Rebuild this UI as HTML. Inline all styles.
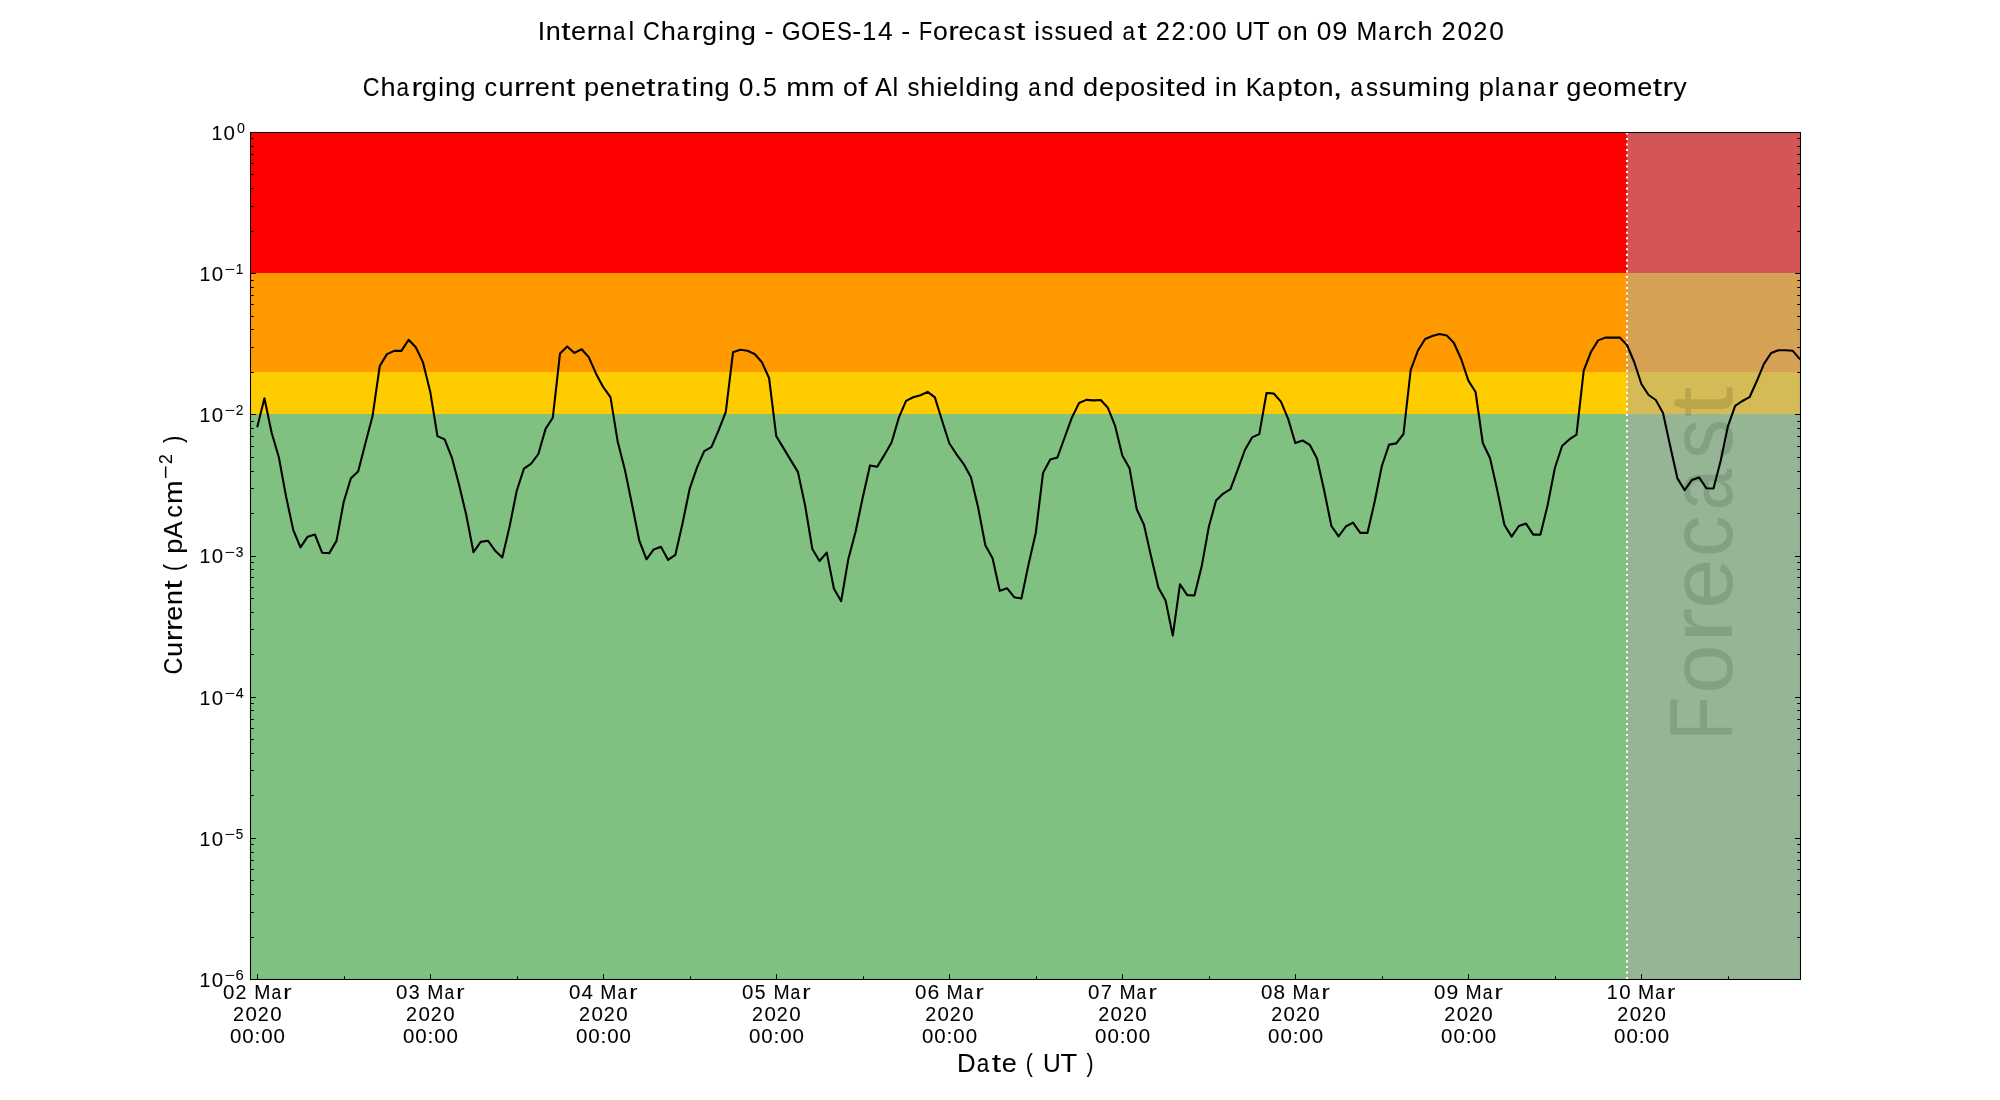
<!DOCTYPE html>
<html><head><meta charset="utf-8"><title>Internal Charging - GOES-14</title>
<style>html,body{margin:0;padding:0;background:#fff;width:2000px;height:1100px;overflow:hidden}svg{display:block;will-change:transform}text{font-family:"Liberation Sans", sans-serif;fill:#000;stroke:#000;stroke-width:0.07px;-webkit-font-smoothing:antialiased}</style>
</head><body>
<svg width="2000" height="1100" viewBox="0 0 2000 1100">
<rect x="0" y="0" width="2000" height="1100" fill="#fff"/>
<rect x="250.0" y="132.0" width="1550.0" height="141.00" fill="#ff0000"/>
<rect x="250.0" y="273.00" width="1550.0" height="99.00" fill="#ff9900"/>
<rect x="250.0" y="372.00" width="1550.0" height="42.00" fill="#ffcc00"/>
<rect x="250.0" y="414.00" width="1550.0" height="565.00" fill="#80c080"/>
<rect x="1627.00" y="132.0" width="173.00" height="847.0" fill="#a9a9a9" fill-opacity="0.5"/>
<g transform="translate(1731.9,734.5) rotate(-90)" opacity="0.11">
<text transform="translate(17.46,0.00) scale(0.809,1)" x="-28.83" y="0" font-size="88.33">F</text><text transform="translate(65.27,0.00) scale(1.003,1)" x="-24.56" y="0" font-size="88.33">o</text><text transform="translate(111.65,0.00) scale(1.209,1)" x="-16.91" y="0" font-size="88.33">r</text><text transform="translate(150.72,0.00) scale(1.019,1)" x="-24.48" y="0" font-size="88.33">e</text><text transform="translate(198.89,0.00) scale(0.947,1)" x="-22.79" y="0" font-size="88.33">c</text><text transform="translate(246.34,0.00) scale(0.848,1)" x="-26.44" y="0" font-size="88.33">a</text><text transform="translate(295.08,0.00) scale(0.904,1)" x="-21.72" y="0" font-size="88.33">s</text><text transform="translate(333.03,0.00) scale(1.261,1)" x="-12.62" y="0" font-size="88.33">t</text>
</g>
<line x1="1627" y1="979" x2="1627" y2="132" stroke="#fff" stroke-width="2.08" stroke-dasharray="2.08 3.44"/>
<polyline points="257.21,427.30 264.42,398.20 271.63,432.70 278.84,457.30 286.05,496.40 293.26,530.00 300.47,547.30 307.67,536.70 314.88,534.50 322.09,552.70 329.30,553.10 336.51,540.90 343.72,501.80 350.93,478.20 358.14,471.50 365.35,443.60 372.56,416.10 379.77,366.00 386.98,354.10 394.19,350.90 401.40,350.90 408.60,339.80 415.81,347.20 423.02,362.40 430.23,391.70 437.44,436.10 444.65,439.40 451.86,457.60 459.07,484.80 466.28,515.10 473.49,552.20 480.70,541.90 487.91,540.70 495.12,550.70 502.33,557.40 509.53,526.70 516.74,490.80 523.95,468.60 531.16,463.60 538.37,454.00 545.58,428.90 552.79,417.80 560.00,353.60 567.21,346.40 574.42,352.90 581.63,349.20 588.84,357.30 596.05,373.70 603.26,387.20 610.47,397.20 617.67,441.40 624.88,469.70 632.09,504.70 639.30,540.70 646.51,559.30 653.72,549.40 660.93,546.80 668.14,559.90 675.35,554.90 682.56,523.20 689.77,488.30 696.98,467.60 704.19,451.20 711.40,447.20 718.60,430.40 725.81,411.90 733.02,352.30 740.23,349.70 747.44,350.70 754.65,354.00 761.86,362.10 769.07,378.00 776.28,436.30 783.49,448.10 790.70,460.10 797.91,471.90 805.12,505.50 812.33,549.00 819.53,561.00 826.74,552.60 833.95,588.80 841.16,601.10 848.37,558.90 855.58,531.70 862.79,497.20 870.00,465.40 877.21,466.80 884.42,454.90 891.63,442.30 898.84,417.70 906.05,400.90 913.26,397.20 920.47,395.30 927.67,391.90 934.88,397.40 942.09,420.80 949.30,443.20 956.51,454.30 963.72,464.10 970.93,477.30 978.14,507.60 985.35,545.30 992.56,558.20 999.77,590.90 1006.98,588.20 1014.19,597.20 1021.40,598.60 1028.60,564.10 1035.81,532.70 1043.02,473.10 1050.23,459.50 1057.44,457.40 1064.65,437.50 1071.86,417.70 1079.07,403.00 1086.28,399.90 1093.49,400.40 1100.70,400.00 1107.91,407.80 1115.12,425.90 1122.33,455.60 1129.53,468.30 1136.74,509.30 1143.95,524.80 1151.16,556.80 1158.37,587.40 1165.58,600.40 1172.79,635.60 1180.00,584.20 1187.21,595.10 1194.42,595.50 1201.63,566.60 1208.84,526.70 1216.05,500.50 1223.26,493.60 1230.47,489.20 1237.67,469.90 1244.88,450.00 1252.09,437.40 1259.30,434.10 1266.51,393.00 1273.72,393.50 1280.93,401.60 1288.14,418.90 1295.35,443.10 1302.56,440.50 1309.77,444.80 1316.98,458.60 1324.19,490.60 1331.40,526.00 1338.60,536.40 1345.81,526.50 1353.02,522.60 1360.23,532.90 1367.44,532.90 1374.65,501.80 1381.86,466.00 1389.07,444.60 1396.28,443.40 1403.49,434.00 1410.70,370.00 1417.91,350.60 1425.12,339.00 1432.33,336.00 1439.53,334.00 1446.74,335.40 1453.95,343.00 1461.16,359.00 1468.37,380.60 1475.58,392.00 1482.79,443.00 1490.00,458.00 1497.21,490.00 1504.42,525.00 1511.63,536.60 1518.84,526.00 1526.05,523.60 1533.26,534.60 1540.47,534.60 1547.67,505.00 1554.88,468.00 1562.09,446.00 1569.30,439.40 1576.51,434.60 1583.72,370.60 1590.93,352.00 1598.14,340.40 1605.35,337.60 1612.56,337.60 1619.77,337.60 1626.98,345.00 1634.19,362.00 1641.40,384.00 1648.60,395.00 1655.81,400.00 1663.02,413.00 1670.23,446.30 1677.44,478.40 1684.65,490.10 1691.86,480.00 1699.07,477.40 1706.28,488.20 1713.49,488.50 1720.70,460.70 1727.91,426.30 1735.12,405.90 1742.33,401.00 1749.53,397.20 1756.74,381.30 1763.95,363.80 1771.16,353.00 1778.37,350.30 1785.58,350.30 1792.79,350.80 1800.00,359.30" fill="none" stroke="#000" stroke-width="2.08" stroke-linejoin="round" stroke-linecap="butt"/>
<path d="M250,132.5h5.86M1801,132.5h-5.86M250,231.5h3.78M1801,231.5h-3.78M250,206.5h3.78M1801,206.5h-3.78M250,188.5h3.78M1801,188.5h-3.78M250,174.5h3.78M1801,174.5h-3.78M250,163.5h3.78M1801,163.5h-3.78M250,154.5h3.78M1801,154.5h-3.78M250,146.5h3.78M1801,146.5h-3.78M250,138.5h3.78M1801,138.5h-3.78M250,273.5h5.86M1801,273.5h-5.86M250,372.5h3.78M1801,372.5h-3.78M250,347.5h3.78M1801,347.5h-3.78M250,329.5h3.78M1801,329.5h-3.78M250,316.5h3.78M1801,316.5h-3.78M250,304.5h3.78M1801,304.5h-3.78M250,295.5h3.78M1801,295.5h-3.78M250,287.5h3.78M1801,287.5h-3.78M250,280.5h3.78M1801,280.5h-3.78M250,414.5h5.86M1801,414.5h-5.86M250,513.5h3.78M1801,513.5h-3.78M250,488.5h3.78M1801,488.5h-3.78M250,471.5h3.78M1801,471.5h-3.78M250,457.5h3.78M1801,457.5h-3.78M250,446.5h3.78M1801,446.5h-3.78M250,436.5h3.78M1801,436.5h-3.78M250,428.5h3.78M1801,428.5h-3.78M250,421.5h3.78M1801,421.5h-3.78M250,556.5h5.86M1801,556.5h-5.86M250,654.5h3.78M1801,654.5h-3.78M250,629.5h3.78M1801,629.5h-3.78M250,612.5h3.78M1801,612.5h-3.78M250,598.5h3.78M1801,598.5h-3.78M250,587.5h3.78M1801,587.5h-3.78M250,577.5h3.78M1801,577.5h-3.78M250,569.5h3.78M1801,569.5h-3.78M250,562.5h3.78M1801,562.5h-3.78M250,697.5h5.86M1801,697.5h-5.86M250,795.5h3.78M1801,795.5h-3.78M250,770.5h3.78M1801,770.5h-3.78M250,753.5h3.78M1801,753.5h-3.78M250,739.5h3.78M1801,739.5h-3.78M250,728.5h3.78M1801,728.5h-3.78M250,719.5h3.78M1801,719.5h-3.78M250,710.5h3.78M1801,710.5h-3.78M250,703.5h3.78M1801,703.5h-3.78M250,838.5h5.86M1801,838.5h-5.86M250,937.5h3.78M1801,937.5h-3.78M250,912.5h3.78M1801,912.5h-3.78M250,894.5h3.78M1801,894.5h-3.78M250,880.5h3.78M1801,880.5h-3.78M250,869.5h3.78M1801,869.5h-3.78M250,860.5h3.78M1801,860.5h-3.78M250,852.5h3.78M1801,852.5h-3.78M250,844.5h3.78M1801,844.5h-3.78M250,979.5h5.86M1801,979.5h-5.86M257.5,980v-5.86M344.5,980v-3.78M430.5,980v-5.86M517.5,980v-3.78M603.5,980v-5.86M690.5,980v-3.78M776.5,980v-5.86M863.5,980v-3.78M949.5,980v-5.86M1036.5,980v-3.78M1122.5,980v-5.86M1209.5,980v-3.78M1295.5,980v-5.86M1382.5,980v-3.78M1468.5,980v-5.86M1555.5,980v-3.78M1641.5,980v-5.86M1728.5,980v-3.78" stroke="#000" stroke-width="1.05" fill="none"/>
<rect x="250.5" y="132.5" width="1550" height="847" fill="none" stroke="#000" stroke-width="1.05"/>
<text transform="translate(541.44,40.20) scale(0.998,1)" x="-3.68" y="0" font-size="26.50">I</text><text transform="translate(553.15,40.20) scale(1.017,1)" x="-7.39" y="0" font-size="26.50">n</text><text transform="translate(565.97,40.20) scale(1.261,1)" x="-3.78" y="0" font-size="26.50">t</text><text transform="translate(578.58,40.20) scale(1.019,1)" x="-7.34" y="0" font-size="26.50">e</text><text transform="translate(592.55,40.20) scale(1.209,1)" x="-5.07" y="0" font-size="26.50">r</text><text transform="translate(604.58,40.20) scale(1.017,1)" x="-7.39" y="0" font-size="26.50">n</text><text transform="translate(619.74,40.20) scale(0.848,1)" x="-7.93" y="0" font-size="26.50">a</text><text transform="translate(631.30,40.20) scale(0.964,1)" x="-2.95" y="0" font-size="26.50">l</text><text transform="translate(651.51,40.20) scale(0.876,1)" x="-9.74" y="0" font-size="26.50">C</text><text transform="translate(668.25,40.20) scale(1.024,1)" x="-7.43" y="0" font-size="26.50">h</text><text transform="translate(683.42,40.20) scale(0.848,1)" x="-7.93" y="0" font-size="26.50">a</text><text transform="translate(697.77,40.20) scale(1.209,1)" x="-5.07" y="0" font-size="26.50">r</text><text transform="translate(709.29,40.20) scale(1.025,1)" x="-7.07" y="0" font-size="26.50">g</text><text transform="translate(721.18,40.20) scale(0.964,1)" x="-2.94" y="0" font-size="26.50">i</text><text transform="translate(732.67,40.20) scale(1.017,1)" x="-7.39" y="0" font-size="26.50">n</text><text transform="translate(748.05,40.20) scale(1.025,1)" x="-7.07" y="0" font-size="26.50">g</text><text transform="translate(768.94,40.20) scale(1.017,1)" x="-4.41" y="0" font-size="26.50">-</text><text transform="translate(790.81,40.20) scale(0.920,1)" x="-9.98" y="0" font-size="26.50">G</text><text transform="translate(810.71,40.20) scale(0.933,1)" x="-10.30" y="0" font-size="26.50">O</text><text transform="translate(828.92,40.20) scale(0.818,1)" x="-9.36" y="0" font-size="26.50">E</text><text transform="translate(844.49,40.20) scale(0.841,1)" x="-8.83" y="0" font-size="26.50">S</text><text transform="translate(856.84,40.20) scale(1.017,1)" x="-4.41" y="0" font-size="26.50">-</text><text transform="translate(869.56,40.20) scale(0.950,1)" x="-7.73" y="0" font-size="26.50">1</text><text transform="translate(885.19,40.20) scale(0.995,1)" x="-7.28" y="0" font-size="26.50">4</text><text transform="translate(905.74,40.20) scale(1.017,1)" x="-4.41" y="0" font-size="26.50">-</text><text transform="translate(925.94,40.20) scale(0.809,1)" x="-8.65" y="0" font-size="26.50">F</text><text transform="translate(940.32,40.20) scale(1.003,1)" x="-7.37" y="0" font-size="26.50">o</text><text transform="translate(954.27,40.20) scale(1.209,1)" x="-5.07" y="0" font-size="26.50">r</text><text transform="translate(966.02,40.20) scale(1.019,1)" x="-7.34" y="0" font-size="26.50">e</text><text transform="translate(980.51,40.20) scale(0.947,1)" x="-6.84" y="0" font-size="26.50">c</text><text transform="translate(994.78,40.20) scale(0.848,1)" x="-7.93" y="0" font-size="26.50">a</text><text transform="translate(1009.44,40.20) scale(0.904,1)" x="-6.52" y="0" font-size="26.50">s</text><text transform="translate(1020.85,40.20) scale(1.261,1)" x="-3.78" y="0" font-size="26.50">t</text><text transform="translate(1037.18,40.20) scale(0.964,1)" x="-2.94" y="0" font-size="26.50">i</text><text transform="translate(1047.25,40.20) scale(0.904,1)" x="-6.52" y="0" font-size="26.50">s</text><text transform="translate(1060.31,40.20) scale(0.904,1)" x="-6.52" y="0" font-size="26.50">s</text><text transform="translate(1074.64,40.20) scale(1.017,1)" x="-7.35" y="0" font-size="26.50">u</text><text transform="translate(1090.39,40.20) scale(1.019,1)" x="-7.34" y="0" font-size="26.50">e</text><text transform="translate(1105.58,40.20) scale(1.025,1)" x="-7.07" y="0" font-size="26.50">d</text><text transform="translate(1129.24,40.20) scale(0.848,1)" x="-7.93" y="0" font-size="26.50">a</text><text transform="translate(1142.26,40.20) scale(1.261,1)" x="-3.78" y="0" font-size="26.50">t</text><text transform="translate(1162.74,40.20) scale(0.959,1)" x="-7.37" y="0" font-size="26.50">2</text><text transform="translate(1178.68,40.20) scale(0.959,1)" x="-7.37" y="0" font-size="26.50">2</text><text transform="translate(1191.22,40.20) scale(1.021,1)" x="-3.68" y="0" font-size="26.50">:</text><text transform="translate(1203.40,40.20) scale(0.994,1)" x="-7.37" y="0" font-size="26.50">0</text><text transform="translate(1219.35,40.20) scale(0.994,1)" x="-7.37" y="0" font-size="26.50">0</text><text transform="translate(1244.46,40.20) scale(0.927,1)" x="-9.57" y="0" font-size="26.50">U</text><text transform="translate(1261.29,40.20) scale(1.029,1)" x="-8.09" y="0" font-size="26.50">T</text><text transform="translate(1284.59,40.20) scale(1.003,1)" x="-7.37" y="0" font-size="26.50">o</text><text transform="translate(1300.26,40.20) scale(1.017,1)" x="-7.39" y="0" font-size="26.50">n</text><text transform="translate(1324.06,40.20) scale(0.994,1)" x="-7.37" y="0" font-size="26.50">0</text><text transform="translate(1339.92,40.20) scale(1.027,1)" x="-7.36" y="0" font-size="26.50">9</text><text transform="translate(1366.77,40.20) scale(0.941,1)" x="-11.04" y="0" font-size="26.50">M</text><text transform="translate(1384.87,40.20) scale(0.848,1)" x="-7.93" y="0" font-size="26.50">a</text><text transform="translate(1399.23,40.20) scale(1.209,1)" x="-5.07" y="0" font-size="26.50">r</text><text transform="translate(1410.04,40.20) scale(0.947,1)" x="-6.84" y="0" font-size="26.50">c</text><text transform="translate(1425.04,40.20) scale(1.024,1)" x="-7.43" y="0" font-size="26.50">h</text><text transform="translate(1448.51,40.20) scale(0.959,1)" x="-7.37" y="0" font-size="26.50">2</text><text transform="translate(1464.78,40.20) scale(0.994,1)" x="-7.37" y="0" font-size="26.50">0</text><text transform="translate(1480.40,40.20) scale(0.959,1)" x="-7.37" y="0" font-size="26.50">2</text><text transform="translate(1496.67,40.20) scale(0.994,1)" x="-7.37" y="0" font-size="26.50">0</text>
<text transform="translate(371.36,96.10) scale(0.876,1)" x="-9.74" y="0" font-size="26.50">C</text><text transform="translate(388.10,96.10) scale(1.024,1)" x="-7.43" y="0" font-size="26.50">h</text><text transform="translate(403.25,96.10) scale(0.848,1)" x="-7.93" y="0" font-size="26.50">a</text><text transform="translate(417.60,96.10) scale(1.209,1)" x="-5.07" y="0" font-size="26.50">r</text><text transform="translate(429.11,96.10) scale(1.025,1)" x="-7.07" y="0" font-size="26.50">g</text><text transform="translate(441.00,96.10) scale(0.964,1)" x="-2.94" y="0" font-size="26.50">i</text><text transform="translate(452.48,96.10) scale(1.017,1)" x="-7.39" y="0" font-size="26.50">n</text><text transform="translate(467.85,96.10) scale(1.025,1)" x="-7.07" y="0" font-size="26.50">g</text><text transform="translate(491.01,96.10) scale(0.947,1)" x="-6.84" y="0" font-size="26.50">c</text><text transform="translate(505.85,96.10) scale(1.017,1)" x="-7.35" y="0" font-size="26.50">u</text><text transform="translate(520.15,96.10) scale(1.209,1)" x="-5.07" y="0" font-size="26.50">r</text><text transform="translate(530.45,96.10) scale(1.209,1)" x="-5.07" y="0" font-size="26.50">r</text><text transform="translate(542.19,96.10) scale(1.019,1)" x="-7.34" y="0" font-size="26.50">e</text><text transform="translate(557.88,96.10) scale(1.017,1)" x="-7.39" y="0" font-size="26.50">n</text><text transform="translate(570.69,96.10) scale(1.261,1)" x="-3.78" y="0" font-size="26.50">t</text><text transform="translate(591.93,96.10) scale(1.026,1)" x="-7.67" y="0" font-size="26.50">p</text><text transform="translate(607.16,96.10) scale(1.019,1)" x="-7.34" y="0" font-size="26.50">e</text><text transform="translate(622.85,96.10) scale(1.017,1)" x="-7.39" y="0" font-size="26.50">n</text><text transform="translate(638.45,96.10) scale(1.019,1)" x="-7.34" y="0" font-size="26.50">e</text><text transform="translate(651.08,96.10) scale(1.261,1)" x="-3.78" y="0" font-size="26.50">t</text><text transform="translate(662.24,96.10) scale(1.209,1)" x="-5.07" y="0" font-size="26.50">r</text><text transform="translate(673.54,96.10) scale(0.848,1)" x="-7.93" y="0" font-size="26.50">a</text><text transform="translate(686.55,96.10) scale(1.261,1)" x="-3.78" y="0" font-size="26.50">t</text><text transform="translate(694.91,96.10) scale(0.964,1)" x="-2.94" y="0" font-size="26.50">i</text><text transform="translate(706.39,96.10) scale(1.017,1)" x="-7.39" y="0" font-size="26.50">n</text><text transform="translate(721.76,96.10) scale(1.025,1)" x="-7.07" y="0" font-size="26.50">g</text><text transform="translate(746.09,96.10) scale(0.994,1)" x="-7.37" y="0" font-size="26.50">0</text><text transform="translate(758.03,96.10) scale(1.021,1)" x="-3.68" y="0" font-size="26.50">.</text><text transform="translate(769.86,96.10) scale(0.939,1)" x="-7.34" y="0" font-size="26.50">5</text><text transform="translate(798.20,96.10) scale(1.075,1)" x="-11.04" y="0" font-size="26.50">m</text><text transform="translate(822.60,96.10) scale(1.075,1)" x="-11.04" y="0" font-size="26.50">m</text><text transform="translate(850.36,96.10) scale(1.003,1)" x="-7.37" y="0" font-size="26.50">o</text><text transform="translate(862.95,96.10) scale(1.239,1)" x="-3.89" y="0" font-size="26.50">f</text><text transform="translate(883.36,96.10) scale(0.950,1)" x="-8.84" y="0" font-size="26.50">A</text><text transform="translate(895.42,96.10) scale(0.964,1)" x="-2.95" y="0" font-size="26.50">l</text><text transform="translate(913.45,96.10) scale(0.904,1)" x="-6.52" y="0" font-size="26.50">s</text><text transform="translate(927.92,96.10) scale(1.024,1)" x="-7.43" y="0" font-size="26.50">h</text><text transform="translate(939.27,96.10) scale(0.964,1)" x="-2.94" y="0" font-size="26.50">i</text><text transform="translate(950.47,96.10) scale(1.019,1)" x="-7.34" y="0" font-size="26.50">e</text><text transform="translate(961.64,96.10) scale(0.964,1)" x="-2.95" y="0" font-size="26.50">l</text><text transform="translate(972.62,96.10) scale(1.025,1)" x="-7.07" y="0" font-size="26.50">d</text><text transform="translate(984.50,96.10) scale(0.964,1)" x="-2.94" y="0" font-size="26.50">i</text><text transform="translate(995.99,96.10) scale(1.017,1)" x="-7.39" y="0" font-size="26.50">n</text><text transform="translate(1011.36,96.10) scale(1.025,1)" x="-7.07" y="0" font-size="26.50">g</text><text transform="translate(1035.00,96.10) scale(0.848,1)" x="-7.93" y="0" font-size="26.50">a</text><text transform="translate(1051.08,96.10) scale(1.017,1)" x="-7.39" y="0" font-size="26.50">n</text><text transform="translate(1066.45,96.10) scale(1.025,1)" x="-7.07" y="0" font-size="26.50">d</text><text transform="translate(1090.31,96.10) scale(1.025,1)" x="-7.07" y="0" font-size="26.50">d</text><text transform="translate(1106.44,96.10) scale(1.019,1)" x="-7.34" y="0" font-size="26.50">e</text><text transform="translate(1122.52,96.10) scale(1.026,1)" x="-7.67" y="0" font-size="26.50">p</text><text transform="translate(1137.69,96.10) scale(1.003,1)" x="-7.37" y="0" font-size="26.50">o</text><text transform="translate(1151.94,96.10) scale(0.904,1)" x="-6.52" y="0" font-size="26.50">s</text><text transform="translate(1161.88,96.10) scale(0.964,1)" x="-2.94" y="0" font-size="26.50">i</text><text transform="translate(1170.30,96.10) scale(1.261,1)" x="-3.78" y="0" font-size="26.50">t</text><text transform="translate(1182.91,96.10) scale(1.019,1)" x="-7.34" y="0" font-size="26.50">e</text><text transform="translate(1198.09,96.10) scale(1.025,1)" x="-7.07" y="0" font-size="26.50">d</text><text transform="translate(1217.94,96.10) scale(0.964,1)" x="-2.94" y="0" font-size="26.50">i</text><text transform="translate(1229.42,96.10) scale(1.017,1)" x="-7.39" y="0" font-size="26.50">n</text><text transform="translate(1254.96,96.10) scale(0.951,1)" x="-9.78" y="0" font-size="26.50">K</text><text transform="translate(1268.97,96.10) scale(0.848,1)" x="-7.93" y="0" font-size="26.50">a</text><text transform="translate(1285.43,96.10) scale(1.026,1)" x="-7.67" y="0" font-size="26.50">p</text><text transform="translate(1297.88,96.10) scale(1.261,1)" x="-3.78" y="0" font-size="26.50">t</text><text transform="translate(1310.42,96.10) scale(1.003,1)" x="-7.37" y="0" font-size="26.50">o</text><text transform="translate(1326.09,96.10) scale(1.017,1)" x="-7.39" y="0" font-size="26.50">n</text><text transform="translate(1337.68,96.10) scale(1.375,1)" x="-3.68" y="0" font-size="26.50">,</text><text transform="translate(1357.17,96.10) scale(0.848,1)" x="-7.93" y="0" font-size="26.50">a</text><text transform="translate(1371.82,96.10) scale(0.904,1)" x="-6.52" y="0" font-size="26.50">s</text><text transform="translate(1384.87,96.10) scale(0.904,1)" x="-6.52" y="0" font-size="26.50">s</text><text transform="translate(1399.20,96.10) scale(1.017,1)" x="-7.35" y="0" font-size="26.50">u</text><text transform="translate(1419.48,96.10) scale(1.075,1)" x="-11.04" y="0" font-size="26.50">m</text><text transform="translate(1435.10,96.10) scale(0.964,1)" x="-2.94" y="0" font-size="26.50">i</text><text transform="translate(1446.58,96.10) scale(1.017,1)" x="-7.39" y="0" font-size="26.50">n</text><text transform="translate(1461.95,96.10) scale(1.025,1)" x="-7.07" y="0" font-size="26.50">g</text><text transform="translate(1486.71,96.10) scale(1.026,1)" x="-7.67" y="0" font-size="26.50">p</text><text transform="translate(1497.70,96.10) scale(0.964,1)" x="-2.95" y="0" font-size="26.50">l</text><text transform="translate(1508.46,96.10) scale(0.848,1)" x="-7.93" y="0" font-size="26.50">a</text><text transform="translate(1524.53,96.10) scale(1.017,1)" x="-7.39" y="0" font-size="26.50">n</text><text transform="translate(1539.69,96.10) scale(0.848,1)" x="-7.93" y="0" font-size="26.50">a</text><text transform="translate(1554.03,96.10) scale(1.209,1)" x="-5.07" y="0" font-size="26.50">r</text><text transform="translate(1573.51,96.10) scale(1.025,1)" x="-7.07" y="0" font-size="26.50">g</text><text transform="translate(1589.64,96.10) scale(1.019,1)" x="-7.34" y="0" font-size="26.50">e</text><text transform="translate(1604.99,96.10) scale(1.003,1)" x="-7.37" y="0" font-size="26.50">o</text><text transform="translate(1624.92,96.10) scale(1.075,1)" x="-11.04" y="0" font-size="26.50">m</text><text transform="translate(1644.78,96.10) scale(1.019,1)" x="-7.34" y="0" font-size="26.50">e</text><text transform="translate(1657.41,96.10) scale(1.261,1)" x="-3.78" y="0" font-size="26.50">t</text><text transform="translate(1668.57,96.10) scale(1.209,1)" x="-5.07" y="0" font-size="26.50">r</text><text transform="translate(1679.99,96.10) scale(1.013,1)" x="-6.63" y="0" font-size="26.50">y</text>
<text transform="translate(966.82,1071.90) scale(0.976,1)" x="-10.02" y="0" font-size="26.50">D</text><text transform="translate(983.36,1071.90) scale(0.848,1)" x="-7.93" y="0" font-size="26.50">a</text><text transform="translate(996.45,1071.90) scale(1.261,1)" x="-3.78" y="0" font-size="26.50">t</text><text transform="translate(1009.13,1071.90) scale(1.019,1)" x="-7.34" y="0" font-size="26.50">e</text><text transform="translate(1029.86,1071.90) scale(0.797,1)" x="-5.16" y="0" font-size="26.50">(</text><text transform="translate(1051.93,1071.90) scale(0.927,1)" x="-9.57" y="0" font-size="26.50">U</text><text transform="translate(1068.85,1071.90) scale(1.029,1)" x="-8.09" y="0" font-size="26.50">T</text><text transform="translate(1089.40,1071.90) scale(0.797,1)" x="-3.67" y="0" font-size="26.50">)</text>
<g transform="translate(181.9,673.4) rotate(-90)">
<text transform="translate(7.35,0.00) scale(0.876,1)" x="-9.74" y="0" font-size="26.50">C</text><text transform="translate(23.90,0.00) scale(1.017,1)" x="-7.35" y="0" font-size="26.50">u</text><text transform="translate(38.17,0.00) scale(1.209,1)" x="-5.07" y="0" font-size="26.50">r</text><text transform="translate(48.45,0.00) scale(1.209,1)" x="-5.07" y="0" font-size="26.50">r</text><text transform="translate(60.17,0.00) scale(1.019,1)" x="-7.34" y="0" font-size="26.50">e</text><text transform="translate(75.83,0.00) scale(1.017,1)" x="-7.39" y="0" font-size="26.50">n</text><text transform="translate(88.62,0.00) scale(1.261,1)" x="-3.78" y="0" font-size="26.50">t</text><text transform="translate(106.38,0.00) scale(0.797,1)" x="-5.16" y="0" font-size="26.50">(</text><text transform="translate(127.51,0.00) scale(1.026,1)" x="-7.67" y="0" font-size="26.50">p</text><text transform="translate(143.54,0.00) scale(0.950,1)" x="-8.84" y="0" font-size="26.50">A</text>
<text transform="translate(162.11,0.00) scale(0.947,1)" x="-6.84" y="0" font-size="26.50">c</text><text transform="translate(181.32,0.00) scale(1.075,1)" x="-11.04" y="0" font-size="26.50">m</text>
<text transform="translate(201.13,-9.80) scale(1.216,1)" x="-5.58" y="0" font-size="19.08">−</text><text transform="translate(214.16,-9.80) scale(0.959,1)" x="-5.31" y="0" font-size="19.08">2</text>
<text transform="translate(233.50,0.00) scale(0.797,1)" x="-3.67" y="0" font-size="26.50">)</text>
</g>
<text transform="translate(228.59,998.90) scale(0.994,1)" x="-5.73" y="0" font-size="20.61">0</text><text transform="translate(240.94,998.90) scale(0.959,1)" x="-5.73" y="0" font-size="20.61">2</text><text transform="translate(262.38,998.90) scale(0.941,1)" x="-8.58" y="0" font-size="20.61">M</text><text transform="translate(276.70,998.90) scale(0.848,1)" x="-6.17" y="0" font-size="20.61">a</text><text transform="translate(288.05,998.90) scale(1.209,1)" x="-3.94" y="0" font-size="20.61">r</text>
<text transform="translate(238.53,1020.70) scale(0.959,1)" x="-5.73" y="0" font-size="20.61">2</text><text transform="translate(251.15,1020.70) scale(0.994,1)" x="-5.73" y="0" font-size="20.61">0</text><text transform="translate(263.27,1020.70) scale(0.959,1)" x="-5.73" y="0" font-size="20.61">2</text><text transform="translate(275.89,1020.70) scale(0.994,1)" x="-5.73" y="0" font-size="20.61">0</text>
<text transform="translate(235.58,1042.70) scale(0.994,1)" x="-5.73" y="0" font-size="20.61">0</text><text transform="translate(247.95,1042.70) scale(0.994,1)" x="-5.73" y="0" font-size="20.61">0</text><text transform="translate(257.42,1042.70) scale(1.021,1)" x="-2.86" y="0" font-size="20.61">:</text><text transform="translate(266.87,1042.70) scale(0.994,1)" x="-5.73" y="0" font-size="20.61">0</text><text transform="translate(279.24,1042.70) scale(0.994,1)" x="-5.73" y="0" font-size="20.61">0</text>
<text transform="translate(401.61,998.90) scale(0.994,1)" x="-5.73" y="0" font-size="20.61">0</text><text transform="translate(414.19,998.90) scale(0.955,1)" x="-5.67" y="0" font-size="20.61">3</text><text transform="translate(435.40,998.90) scale(0.941,1)" x="-8.58" y="0" font-size="20.61">M</text><text transform="translate(449.72,998.90) scale(0.848,1)" x="-6.17" y="0" font-size="20.61">a</text><text transform="translate(461.08,998.90) scale(1.209,1)" x="-3.94" y="0" font-size="20.61">r</text>
<text transform="translate(411.55,1020.70) scale(0.959,1)" x="-5.73" y="0" font-size="20.61">2</text><text transform="translate(424.18,1020.70) scale(0.994,1)" x="-5.73" y="0" font-size="20.61">0</text><text transform="translate(436.29,1020.70) scale(0.959,1)" x="-5.73" y="0" font-size="20.61">2</text><text transform="translate(448.91,1020.70) scale(0.994,1)" x="-5.73" y="0" font-size="20.61">0</text>
<text transform="translate(408.61,1042.70) scale(0.994,1)" x="-5.73" y="0" font-size="20.61">0</text><text transform="translate(420.97,1042.70) scale(0.994,1)" x="-5.73" y="0" font-size="20.61">0</text><text transform="translate(430.44,1042.70) scale(1.021,1)" x="-2.86" y="0" font-size="20.61">:</text><text transform="translate(439.89,1042.70) scale(0.994,1)" x="-5.73" y="0" font-size="20.61">0</text><text transform="translate(452.26,1042.70) scale(0.994,1)" x="-5.73" y="0" font-size="20.61">0</text>
<text transform="translate(574.63,998.90) scale(0.994,1)" x="-5.73" y="0" font-size="20.61">0</text><text transform="translate(587.18,998.90) scale(0.995,1)" x="-5.66" y="0" font-size="20.61">4</text><text transform="translate(608.42,998.90) scale(0.941,1)" x="-8.58" y="0" font-size="20.61">M</text><text transform="translate(622.74,998.90) scale(0.848,1)" x="-6.17" y="0" font-size="20.61">a</text><text transform="translate(634.10,998.90) scale(1.209,1)" x="-3.94" y="0" font-size="20.61">r</text>
<text transform="translate(584.58,1020.70) scale(0.959,1)" x="-5.73" y="0" font-size="20.61">2</text><text transform="translate(597.20,1020.70) scale(0.994,1)" x="-5.73" y="0" font-size="20.61">0</text><text transform="translate(609.31,1020.70) scale(0.959,1)" x="-5.73" y="0" font-size="20.61">2</text><text transform="translate(621.94,1020.70) scale(0.994,1)" x="-5.73" y="0" font-size="20.61">0</text>
<text transform="translate(581.63,1042.70) scale(0.994,1)" x="-5.73" y="0" font-size="20.61">0</text><text transform="translate(594.00,1042.70) scale(0.994,1)" x="-5.73" y="0" font-size="20.61">0</text><text transform="translate(603.47,1042.70) scale(1.021,1)" x="-2.86" y="0" font-size="20.61">:</text><text transform="translate(612.91,1042.70) scale(0.994,1)" x="-5.73" y="0" font-size="20.61">0</text><text transform="translate(625.28,1042.70) scale(0.994,1)" x="-5.73" y="0" font-size="20.61">0</text>
<text transform="translate(747.66,998.90) scale(0.994,1)" x="-5.73" y="0" font-size="20.61">0</text><text transform="translate(760.17,998.90) scale(0.939,1)" x="-5.71" y="0" font-size="20.61">5</text><text transform="translate(781.45,998.90) scale(0.941,1)" x="-8.58" y="0" font-size="20.61">M</text><text transform="translate(795.77,998.90) scale(0.848,1)" x="-6.17" y="0" font-size="20.61">a</text><text transform="translate(807.12,998.90) scale(1.209,1)" x="-3.94" y="0" font-size="20.61">r</text>
<text transform="translate(757.60,1020.70) scale(0.959,1)" x="-5.73" y="0" font-size="20.61">2</text><text transform="translate(770.22,1020.70) scale(0.994,1)" x="-5.73" y="0" font-size="20.61">0</text><text transform="translate(782.34,1020.70) scale(0.959,1)" x="-5.73" y="0" font-size="20.61">2</text><text transform="translate(794.96,1020.70) scale(0.994,1)" x="-5.73" y="0" font-size="20.61">0</text>
<text transform="translate(754.65,1042.70) scale(0.994,1)" x="-5.73" y="0" font-size="20.61">0</text><text transform="translate(767.02,1042.70) scale(0.994,1)" x="-5.73" y="0" font-size="20.61">0</text><text transform="translate(776.49,1042.70) scale(1.021,1)" x="-2.86" y="0" font-size="20.61">:</text><text transform="translate(785.94,1042.70) scale(0.994,1)" x="-5.73" y="0" font-size="20.61">0</text><text transform="translate(798.31,1042.70) scale(0.994,1)" x="-5.73" y="0" font-size="20.61">0</text>
<text transform="translate(920.68,998.90) scale(0.994,1)" x="-5.73" y="0" font-size="20.61">0</text><text transform="translate(933.37,998.90) scale(1.029,1)" x="-5.80" y="0" font-size="20.61">6</text><text transform="translate(954.47,998.90) scale(0.941,1)" x="-8.58" y="0" font-size="20.61">M</text><text transform="translate(968.79,998.90) scale(0.848,1)" x="-6.17" y="0" font-size="20.61">a</text><text transform="translate(980.15,998.90) scale(1.209,1)" x="-3.94" y="0" font-size="20.61">r</text>
<text transform="translate(930.62,1020.70) scale(0.959,1)" x="-5.73" y="0" font-size="20.61">2</text><text transform="translate(943.25,1020.70) scale(0.994,1)" x="-5.73" y="0" font-size="20.61">0</text><text transform="translate(955.36,1020.70) scale(0.959,1)" x="-5.73" y="0" font-size="20.61">2</text><text transform="translate(967.98,1020.70) scale(0.994,1)" x="-5.73" y="0" font-size="20.61">0</text>
<text transform="translate(927.68,1042.70) scale(0.994,1)" x="-5.73" y="0" font-size="20.61">0</text><text transform="translate(940.04,1042.70) scale(0.994,1)" x="-5.73" y="0" font-size="20.61">0</text><text transform="translate(949.51,1042.70) scale(1.021,1)" x="-2.86" y="0" font-size="20.61">:</text><text transform="translate(958.96,1042.70) scale(0.994,1)" x="-5.73" y="0" font-size="20.61">0</text><text transform="translate(971.33,1042.70) scale(0.994,1)" x="-5.73" y="0" font-size="20.61">0</text>
<text transform="translate(1093.70,998.90) scale(0.994,1)" x="-5.73" y="0" font-size="20.61">0</text><text transform="translate(1106.29,998.90) scale(0.973,1)" x="-5.74" y="0" font-size="20.61">7</text><text transform="translate(1127.49,998.90) scale(0.941,1)" x="-8.58" y="0" font-size="20.61">M</text><text transform="translate(1141.81,998.90) scale(0.848,1)" x="-6.17" y="0" font-size="20.61">a</text><text transform="translate(1153.17,998.90) scale(1.209,1)" x="-3.94" y="0" font-size="20.61">r</text>
<text transform="translate(1103.65,1020.70) scale(0.959,1)" x="-5.73" y="0" font-size="20.61">2</text><text transform="translate(1116.27,1020.70) scale(0.994,1)" x="-5.73" y="0" font-size="20.61">0</text><text transform="translate(1128.38,1020.70) scale(0.959,1)" x="-5.73" y="0" font-size="20.61">2</text><text transform="translate(1141.01,1020.70) scale(0.994,1)" x="-5.73" y="0" font-size="20.61">0</text>
<text transform="translate(1100.70,1042.70) scale(0.994,1)" x="-5.73" y="0" font-size="20.61">0</text><text transform="translate(1113.07,1042.70) scale(0.994,1)" x="-5.73" y="0" font-size="20.61">0</text><text transform="translate(1122.54,1042.70) scale(1.021,1)" x="-2.86" y="0" font-size="20.61">:</text><text transform="translate(1131.98,1042.70) scale(0.994,1)" x="-5.73" y="0" font-size="20.61">0</text><text transform="translate(1144.35,1042.70) scale(0.994,1)" x="-5.73" y="0" font-size="20.61">0</text>
<text transform="translate(1266.73,998.90) scale(0.994,1)" x="-5.73" y="0" font-size="20.61">0</text><text transform="translate(1279.34,998.90) scale(1.005,1)" x="-5.73" y="0" font-size="20.61">8</text><text transform="translate(1300.52,998.90) scale(0.941,1)" x="-8.58" y="0" font-size="20.61">M</text><text transform="translate(1314.84,998.90) scale(0.848,1)" x="-6.17" y="0" font-size="20.61">a</text><text transform="translate(1326.19,998.90) scale(1.209,1)" x="-3.94" y="0" font-size="20.61">r</text>
<text transform="translate(1276.67,1020.70) scale(0.959,1)" x="-5.73" y="0" font-size="20.61">2</text><text transform="translate(1289.29,1020.70) scale(0.994,1)" x="-5.73" y="0" font-size="20.61">0</text><text transform="translate(1301.41,1020.70) scale(0.959,1)" x="-5.73" y="0" font-size="20.61">2</text><text transform="translate(1314.03,1020.70) scale(0.994,1)" x="-5.73" y="0" font-size="20.61">0</text>
<text transform="translate(1273.72,1042.70) scale(0.994,1)" x="-5.73" y="0" font-size="20.61">0</text><text transform="translate(1286.09,1042.70) scale(0.994,1)" x="-5.73" y="0" font-size="20.61">0</text><text transform="translate(1295.56,1042.70) scale(1.021,1)" x="-2.86" y="0" font-size="20.61">:</text><text transform="translate(1305.01,1042.70) scale(0.994,1)" x="-5.73" y="0" font-size="20.61">0</text><text transform="translate(1317.38,1042.70) scale(0.994,1)" x="-5.73" y="0" font-size="20.61">0</text>
<text transform="translate(1439.75,998.90) scale(0.994,1)" x="-5.73" y="0" font-size="20.61">0</text><text transform="translate(1452.30,998.90) scale(1.027,1)" x="-5.73" y="0" font-size="20.61">9</text><text transform="translate(1473.54,998.90) scale(0.941,1)" x="-8.58" y="0" font-size="20.61">M</text><text transform="translate(1487.86,998.90) scale(0.848,1)" x="-6.17" y="0" font-size="20.61">a</text><text transform="translate(1499.22,998.90) scale(1.209,1)" x="-3.94" y="0" font-size="20.61">r</text>
<text transform="translate(1449.69,1020.70) scale(0.959,1)" x="-5.73" y="0" font-size="20.61">2</text><text transform="translate(1462.32,1020.70) scale(0.994,1)" x="-5.73" y="0" font-size="20.61">0</text><text transform="translate(1474.43,1020.70) scale(0.959,1)" x="-5.73" y="0" font-size="20.61">2</text><text transform="translate(1487.05,1020.70) scale(0.994,1)" x="-5.73" y="0" font-size="20.61">0</text>
<text transform="translate(1446.74,1042.70) scale(0.994,1)" x="-5.73" y="0" font-size="20.61">0</text><text transform="translate(1459.11,1042.70) scale(0.994,1)" x="-5.73" y="0" font-size="20.61">0</text><text transform="translate(1468.58,1042.70) scale(1.021,1)" x="-2.86" y="0" font-size="20.61">:</text><text transform="translate(1478.03,1042.70) scale(0.994,1)" x="-5.73" y="0" font-size="20.61">0</text><text transform="translate(1490.40,1042.70) scale(0.994,1)" x="-5.73" y="0" font-size="20.61">0</text>
<text transform="translate(1612.52,998.90) scale(0.950,1)" x="-6.01" y="0" font-size="20.61">1</text><text transform="translate(1624.95,998.90) scale(0.994,1)" x="-5.73" y="0" font-size="20.61">0</text><text transform="translate(1646.13,998.90) scale(0.941,1)" x="-8.58" y="0" font-size="20.61">M</text><text transform="translate(1660.45,998.90) scale(0.848,1)" x="-6.17" y="0" font-size="20.61">a</text><text transform="translate(1671.80,998.90) scale(1.209,1)" x="-3.94" y="0" font-size="20.61">r</text>
<text transform="translate(1622.72,1020.70) scale(0.959,1)" x="-5.73" y="0" font-size="20.61">2</text><text transform="translate(1635.34,1020.70) scale(0.994,1)" x="-5.73" y="0" font-size="20.61">0</text><text transform="translate(1647.45,1020.70) scale(0.959,1)" x="-5.73" y="0" font-size="20.61">2</text><text transform="translate(1660.08,1020.70) scale(0.994,1)" x="-5.73" y="0" font-size="20.61">0</text>
<text transform="translate(1619.77,1042.70) scale(0.994,1)" x="-5.73" y="0" font-size="20.61">0</text><text transform="translate(1632.14,1042.70) scale(0.994,1)" x="-5.73" y="0" font-size="20.61">0</text><text transform="translate(1641.60,1042.70) scale(1.021,1)" x="-2.86" y="0" font-size="20.61">:</text><text transform="translate(1651.05,1042.70) scale(0.994,1)" x="-5.73" y="0" font-size="20.61">0</text><text transform="translate(1663.42,1042.70) scale(0.994,1)" x="-5.73" y="0" font-size="20.61">0</text>
<text transform="translate(217.12,139.90) scale(0.950,1)" x="-6.01" y="0" font-size="20.61">1</text><text transform="translate(229.31,139.90) scale(0.994,1)" x="-5.73" y="0" font-size="20.61">0</text>
<text transform="translate(240.87,132.60) scale(0.994,1)" x="-4.01" y="0" font-size="14.42">0</text>
<text transform="translate(205.22,281.07) scale(0.950,1)" x="-6.01" y="0" font-size="20.61">1</text><text transform="translate(217.41,281.07) scale(0.994,1)" x="-5.73" y="0" font-size="20.61">0</text>
<text transform="translate(229.66,274.17) scale(1.216,1)" x="-4.21" y="0" font-size="14.42">−</text><text transform="translate(239.80,274.17) scale(0.950,1)" x="-4.21" y="0" font-size="14.42">1</text>
<text transform="translate(205.22,422.23) scale(0.950,1)" x="-6.01" y="0" font-size="20.61">1</text><text transform="translate(217.41,422.23) scale(0.994,1)" x="-5.73" y="0" font-size="20.61">0</text>
<text transform="translate(229.66,415.33) scale(1.216,1)" x="-4.21" y="0" font-size="14.42">−</text><text transform="translate(239.50,415.33) scale(0.959,1)" x="-4.01" y="0" font-size="14.42">2</text>
<text transform="translate(205.22,563.40) scale(0.950,1)" x="-6.01" y="0" font-size="20.61">1</text><text transform="translate(217.41,563.40) scale(0.994,1)" x="-5.73" y="0" font-size="20.61">0</text>
<text transform="translate(229.66,556.50) scale(1.216,1)" x="-4.21" y="0" font-size="14.42">−</text><text transform="translate(239.65,556.50) scale(0.955,1)" x="-3.97" y="0" font-size="14.42">3</text>
<text transform="translate(205.22,704.57) scale(0.950,1)" x="-6.01" y="0" font-size="20.61">1</text><text transform="translate(217.41,704.57) scale(0.994,1)" x="-5.73" y="0" font-size="20.61">0</text>
<text transform="translate(229.66,697.67) scale(1.216,1)" x="-4.21" y="0" font-size="14.42">−</text><text transform="translate(239.63,697.67) scale(0.995,1)" x="-3.96" y="0" font-size="14.42">4</text>
<text transform="translate(205.22,845.73) scale(0.950,1)" x="-6.01" y="0" font-size="20.61">1</text><text transform="translate(217.41,845.73) scale(0.994,1)" x="-5.73" y="0" font-size="20.61">0</text>
<text transform="translate(229.66,838.83) scale(1.216,1)" x="-4.21" y="0" font-size="14.42">−</text><text transform="translate(239.61,838.83) scale(0.939,1)" x="-3.99" y="0" font-size="14.42">5</text>
<text transform="translate(205.22,986.90) scale(0.950,1)" x="-6.01" y="0" font-size="20.61">1</text><text transform="translate(217.41,986.90) scale(0.994,1)" x="-5.73" y="0" font-size="20.61">0</text>
<text transform="translate(229.66,980.00) scale(1.216,1)" x="-4.21" y="0" font-size="14.42">−</text><text transform="translate(239.73,980.00) scale(1.029,1)" x="-4.06" y="0" font-size="14.42">6</text>
</svg></body></html>
